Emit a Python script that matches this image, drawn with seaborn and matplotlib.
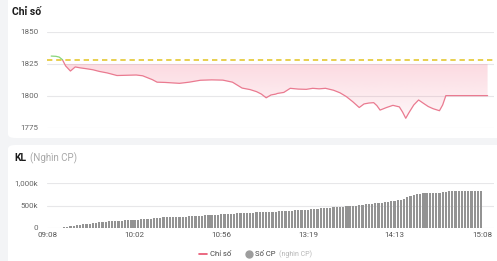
import matplotlib
matplotlib.use("Agg")
import matplotlib.pyplot as plt
import numpy as np
import pandas as pd
import seaborn as sns
from matplotlib.patches import FancyBboxPatch
from matplotlib.lines import Line2D

# du lieu chi so (gio, gia tri)
line_times = ["09:10", "09:13", "09:15", "09:17", "09:19", "09:22", "09:25", "09:28", "09:32",
              "09:36", "09:40", "09:45", "09:51", "09:57", "10:03", "10:07", "10:10", "10:13",
              "10:16", "10:21", "10:26", "10:30", "10:36", "10:43", "10:50", "10:57", "11:03",
              "11:06", "11:09", "11:14", "11:18", "11:21", "11:24", "11:27", "11:30", "13:00",
              "13:04", "13:08", "13:13", "13:18", "13:22", "13:26", "13:30", "13:35", "13:39",
              "13:43", "13:47", "13:51", "13:54", "13:57", "14:00", "14:02", "14:04", "14:08",
              "14:12", "14:16", "14:18", "14:20", "14:22", "14:25", "14:28", "14:31", "14:34",
              "14:37", "14:41", "14:43", "14:45", "15:11"]
line_values = [1831.2, 1831.0, 1830.4, 1828.4, 1823.5, 1819.5, 1822.7, 1822.0, 1821.3,
               1820.5, 1819.2, 1818.0, 1816.0, 1816.2, 1816.4, 1815.8, 1814.3, 1812.8,
               1810.8, 1810.6, 1810.2, 1809.9, 1810.8, 1812.3, 1812.6, 1812.4, 1810.8,
               1808.5, 1806.2, 1805.0, 1803.4, 1801.5, 1798.6, 1800.8, 1801.5, 1802.0,
               1802.8, 1806.0, 1805.4, 1805.2, 1806.0, 1805.6, 1806.0, 1804.5, 1802.5,
               1799.5, 1795.5, 1791.0, 1793.8, 1794.5, 1794.8, 1792.5, 1789.0, 1791.0,
               1792.7, 1791.5, 1787.5, 1782.6, 1787.0, 1793.0, 1796.9, 1794.3, 1791.8,
               1790.1, 1788.5, 1793.0, 1800.3, 1800.3]
ref_value = 1828.4

# khoi luong cong don (nghin CP), moi cot 2 phut tu 09:08
bar_start = "09:08"
bar_step = 2
bar_values = [0, 1, 2, 3, 5,
              12, 25, 45, 55, 62, 70, 80, 88, 95, 105, 115, 125, 132, 138, 145, 150,
              155, 160, 165, 170, 175, 180, 185, 188, 190, 192, 195, 198, 225, 230, 232,
              235, 238, 240, 243, 245, 248, 252, 255, 258, 262, 266, 270, 275, 280, 285,
              290, 295, 300, 305, 310, 314, 318, 322, 326, 330, 334, 338, 341, 344, 347,
              350, 353, 356, 359, 362, 365, 368, 372, 376, 380, 385, 390, 395, 400, 405,
              410, 416, 422, 428, 434, 440, 446, 452, 458, 464, 470, 476, 482, 488, 494,
              500, 508, 516, 524, 532, 540, 548, 556, 564, 572, 580, 590, 600, 612, 630,
              655, 680, 705, 730, 750, 765, 775, 780, 782, 784, 786, 788, 790, 800, 830,
              832, 832, 832, 832, 832, 832, 832, 832, 832, 832]

tick_labels = ["09:08", "10:02", "10:56", "13:19", "14:13", "15:08"]


def to_idx(t):
    # phut giao dich ke tu 09:08, bo qua nghi trua
    h, m = map(int, t.split(":"))
    mins = h * 60 + m
    if mins <= 11 * 60 + 30:
        return mins - (9 * 60 + 8)
    return 143 + mins - 13 * 60


df_line = pd.DataFrame({"x": [to_idx(t) for t in line_times], "y": line_values})
df_bar = pd.DataFrame({"x": to_idx(bar_start) + bar_step * np.arange(len(bar_values)),
                       "y": bar_values})

sns.set_style("white")
plt.rcParams["font.family"] = ["Roboto", "DejaVu Sans"]

W, H = 497, 261
fig = plt.figure(figsize=(W / 100, H / 100), dpi=100)
fig.patch.set_facecolor("#f3f4f6")

# the trang
for (x0, y0, x1, y1) in [(8, -10, 510, 138), (8, 145, 510, 275)]:
    fig.patches.append(FancyBboxPatch((x0 / W, 1 - y1 / H), (x1 - x0) / W, (y1 - y0) / H,
                                      boxstyle="round,pad=0,rounding_size=0.015",
                                      transform=fig.transFigure, facecolor="white",
                                      edgecolor="none", zorder=-5))

left, width = 47 / W, (494 - 47) / W
xlim = (-0.6, 278)

ax1 = fig.add_axes([left, 1 - 128 / H, width, 96 / H])
ax2 = fig.add_axes([left, 1 - 228 / H, width, 45 / H])

for ax in (ax1, ax2):
    ax.set_zorder(2)
    ax.set_facecolor("none")
    for s in ax.spines.values():
        s.set_visible(False)
    ax.grid(axis="y", color="#e7e7e9", lw=0.8)
    ax.set_axisbelow(True)
    ax.tick_params(length=0, labelsize=5.8, labelcolor="#666666")
    ax.set_xlim(*xlim)

# bieu do chi so
ax1.set_ylim(1775, 1850)
ax1.set_yticks([1775, 1800, 1825, 1850])
ax1.tick_params(axis="y", pad=6.5)
ax1.set_xticks([])

# to mau gradient duoi 1825
xs = df_line["x"].to_numpy(float)
ys = df_line["y"].to_numpy(float)
poly = ax1.fill_between(xs, ys, 1825, where=ys <= 1825, interpolate=True,
                        color="none", lw=0)
grad = np.zeros((100, 1, 4))
grad[:, 0, :3] = np.array([244, 120, 145]) / 255
grad[:, 0, 3] = np.linspace(0.05, 0.27, 100)
img = ax1.imshow(grad, extent=[xlim[0], xlim[1], 1780, 1825], aspect="auto",
                 origin="lower", zorder=1)
img.set_clip_path(poly.get_paths()[0], transform=ax1.transData)
ax1.set_xlim(*xlim)
ax1.set_ylim(1775, 1850)

ax1.axhline(ref_value, color="#e2c21f", lw=1.1, ls=(0, (3.5, 2.5)), zorder=3)
sns.lineplot(data=df_line.iloc[3:], x="x", y="y", ax=ax1, color="#ea7a90", lw=0.9, zorder=4)
sns.lineplot(data=df_line.iloc[:4], x="x", y="y", ax=ax1, color="#86d67a", lw=0.9, zorder=4)
ax1.set_xlabel("")
ax1.set_ylabel("")

# bieu do khoi luong
sns.barplot(data=df_bar, x="x", y="y", native_scale=True, width=0.7, color="#939393",
            errorbar=None, saturation=1, linewidth=0, ax=ax2, zorder=2)
ax2.set_xlim(*xlim)
ax2.set_ylim(0, 1000)
ax2.set_yticks([0, 500, 1000])
ax2.set_yticklabels(["0", "500k", "1,000k"])
ax2.tick_params(axis="y", pad=6.5)
ax2.set_xticks([0, 54, 108, 162, 216, 271])
ax2.set_xticklabels(tick_labels)
ax2.tick_params(axis="x", pad=3, labelcolor="#555555")
ax2.set_xlabel("")
ax2.set_ylabel("")

# tieu de
fig.text(12 / W, 1 - 12 / H, "Chỉ số", fontsize=7.5, fontweight="bold", color="#1b1b1b",
         va="center", ha="left")
fig.text(14 / W, 1 - 158 / H, "KL", fontsize=7.5, fontweight="bold", color="#1b1b1b",
         va="center", ha="left")
fig.text(30 / W, 1 - 158 / H, "(Nghìn CP)", fontsize=7, color="#a8a8a8",
         va="center", ha="left")

# chu thich
ly = 1 - 254 / H
fig.add_artist(Line2D([199 / W, 207 / W], [ly, ly], color="#e8506c", lw=1.2,
                      transform=fig.transFigure))
fig.text(210 / W, ly, "Chỉ số", fontsize=5.5, color="#444444", va="center", ha="left")
fig.add_artist(Line2D([249 / W], [ly], marker="o", markersize=5, color="#9d9d9d",
                      transform=fig.transFigure))
fig.text(255 / W, ly, "Số CP", fontsize=5.5, color="#444444", va="center", ha="left")
fig.text(279 / W, ly, "(nghìn CP)", fontsize=5, color="#b5b5b5", va="center", ha="left")

fig.savefig("out.png", dpi=100, facecolor=fig.get_facecolor())
